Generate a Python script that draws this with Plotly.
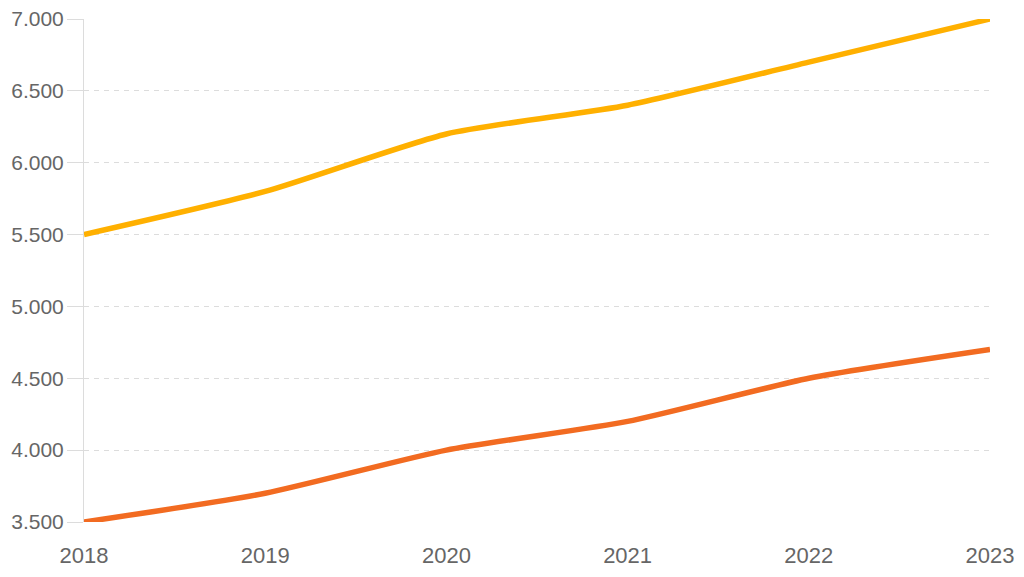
import plotly.graph_objects as go

years = ["2018", "2019", "2020", "2021", "2022", "2023"]
series_a = [5500, 5800, 6200, 6400, 6700, 7000]
series_b = [3500, 3700, 4000, 4200, 4500, 4700]
y_ticks = [3500, 4000, 4500, 5000, 5500, 6000, 6500, 7000]

fig = go.Figure()
fig.add_trace(go.Scatter(x=years, y=series_a, mode="lines",
                         line=dict(color="#FFB000", width=5.5, shape="spline", smoothing=0.6)))
fig.add_trace(go.Scatter(x=years, y=series_b, mode="lines",
                         line=dict(color="#F26B21", width=5.5, shape="spline", smoothing=0.6)))

fig.update_layout(
    width=1016, height=569,
    margin=dict(l=76, r=34, t=11, b=55, autoexpand=False),
    paper_bgcolor="white", plot_bgcolor="white",
    showlegend=False,
    separators=",.",
    font=dict(family="Liberation Sans, Arial, sans-serif", size=22, color="#666666"),
)
fig.update_xaxes(
    type="category", range=[0, 5], showgrid=False, zeroline=False, automargin=False,
    showline=False, ticks="outside", ticklen=14, tickcolor="rgba(0,0,0,0)",
)
fig.update_yaxes(
    range=[3500, 7000], tickvals=y_ticks, tickformat=",d", automargin=False,
    showgrid=True, gridcolor="#dcdcdc", griddash="5px,5px", gridwidth=1,
    zeroline=False, showline=True, linecolor="#dcdcdc", linewidth=1,
    ticks="outside", ticklen=16, tickcolor="#dcdcdc", ticklabelstandoff=-1,
    ticklabeloverflow="allow", tickfont=dict(size=21),
)
fig.write_html("out.html")
